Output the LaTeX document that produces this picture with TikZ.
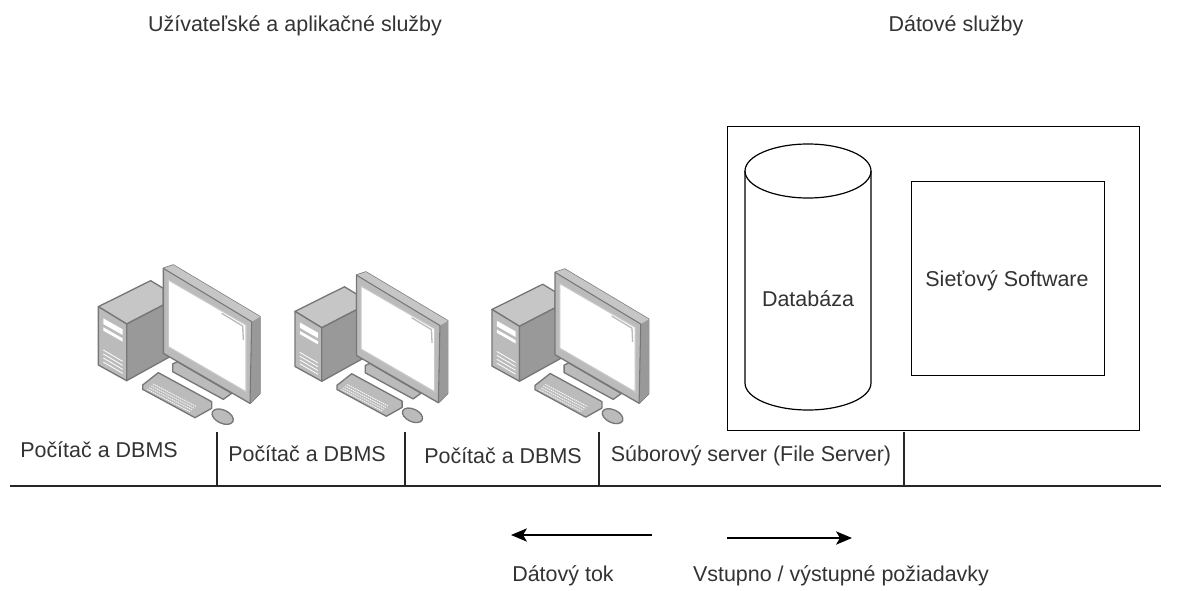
\documentclass[tikz,border=0pt]{standalone}
\usepackage{fontspec}
\setmainfont{Liberation Sans}
\usetikzlibrary{arrows.meta}
\definecolor{txt}{HTML}{333333}
\definecolor{edgeg}{HTML}{777777}
\definecolor{faceA}{HTML}{BBBBBB}
\definecolor{faceB}{HTML}{999999}
\definecolor{faceC}{HTML}{C6C6C6}
\tikzset{
  x=0.75pt,y=-0.75pt,
  lbl/.style={font=\fontsize{16.1pt}{18pt}\selectfont,text=txt,inner sep=0pt,anchor=center},
  boxs/.style={draw=black,line width=0.9pt,fill=white},
  wire/.style={draw=black!85,line width=0.8pt},
  flow/.style={draw=black,line width=0.9pt,-{Stealth[length=12pt,width=10pt,inset=3pt]}},
  ic/.style={draw=edgeg,line width=1pt,line join=round},
  pc/.pic={
    \begin{scope}[x=0.25pt,y=-0.25pt]
    % tower
    \path[ic,fill=faceC] (55,170)--(212,92)--(250,115)--(250,165)--(140,222)--cycle;
    \path[ic,fill=faceA] (55,170)--(140,222)--(140,392)--(55,345)--cycle;
    \path[ic,fill=faceB] (140,222)--(250,165)--(270,320)--(140,392)--cycle;
    \fill[white] (70,205)--(128,238)--(128,255)--(70,222)--cycle;
    \fill[white] (70,232)--(128,265)--(128,275)--(70,242)--cycle;
    \foreach \d in {0,12,24,36}{\draw[white,line width=0.6pt] (70,300+\d)--(128,334+\d);}
    % stand
    \path[ic,fill=faceA] (278,342)--(292,335)--(455,430)--(430,448)--(278,365)--cycle;
    % monitor
    \path[ic,fill=faceA] (250,55)--(280,45)--(540,200)--(540,430)--(510,460)--(250,310)--cycle;
    \fill[faceB] (515,215)--(540,200)--(540,430)--(510,460)--cycle;
    \fill[faceC] (250,55)--(280,45)--(540,200)--(515,215)--cycle;
    \draw[edgeg,line width=0.8pt] (250,55)--(515,215)--(510,460);
    \path[draw=edgeg!40!white,line width=0.8pt,fill=white] (265,90)--(498,225)--(498,425)--(265,290)--cycle;
    \draw[edgeg!50!white,line width=1pt] (425,190)--(488,228)--(490,270);
    % keyboard
    \path[ic,fill=faceA] (188,405)--(235,368)--(395,455)--(395,475)--(345,503)--(188,418)--cycle;
    \foreach \d in {0,10,20,30}{\draw[white,line width=0.6pt,dash pattern=on 1pt off 0.6pt] (220-\d*0.6,402+\d*0.55)--(350-\d*0.6,470+\d*0.55);}
    % mouse
    \path[ic,fill=faceA] (428,500) ellipse [x radius=34,y radius=20,rotate=-25];
    \end{scope}
  }
}
\begin{document}
\begin{tikzpicture}
\useasboundingbox (0,0) rectangle (1190,590);
\fill[white] (0,0) rectangle (1190,590);

\node[lbl] (t1) at (295,25.5) {Užívateľské a aplikačné služby};
\node[lbl] (t2) at (956,25.5) {Dátové služby};

\node[boxs,inner sep=0pt,anchor=north west] (outer) at (727,126) {\tikz\path (0,0) rectangle (412,304);};
\node[boxs,inner sep=0pt,anchor=north west] (sw) at (911,181) {\tikz\path (0,0) rectangle (193,194);};
\node[lbl] at (1007,280.5) {Sieťový Software};

% cylinder
\path[boxs] (745,171) -- (745,383) arc[start angle=180,end angle=0,x radius=63,y radius=27]
  -- (871,171) arc[start angle=0,end angle=-180,x radius=63,y radius=27] -- cycle;
\draw[boxs,fill=none] (745,171) arc[start angle=180,end angle=0,x radius=63,y radius=27];
\node[lbl] (db) at (808,299) {Databáza};

\pic at (80,250) {pc};
\pic[scale=0.945] at (277.7,257.8) {pc};
\pic[scale=0.97] at (474.2,254.5) {pc};

\coordinate (busL) at (10,486);
\coordinate (busR) at (1161,486);
\draw[wire] (busL) -- (busR);
\foreach \n/\x in {a/217,b/405,c/599,d/904}{
  \coordinate (u\n) at (\x,432);
  \coordinate (v\n) at (\x,486);
  \draw[wire] (u\n) -- (v\n);
}
\node[lbl] (p1) at (99,450) {Počítač a DBMS};
\node[lbl] (p2) at (307,454) {Počítač a DBMS};
\node[lbl] (p3) at (503,456) {Počítač a DBMS};
\node[lbl] (fs) at (751,455.5) {Súborový server (File Server)};

\coordinate (aS) at (652,535); \coordinate (aE) at (511,535);
\coordinate (bS) at (727,538); \coordinate (bE) at (852,538);
\draw[flow] (aS) -- (aE);
\draw[flow] (bS) -- (bE);
\node[lbl] (l1) at (563,575.5) {Dátový tok};
\node[lbl] (l2) at (841,575.5) {Vstupno / výstupné požiadavky};
\end{tikzpicture}
\end{document}
